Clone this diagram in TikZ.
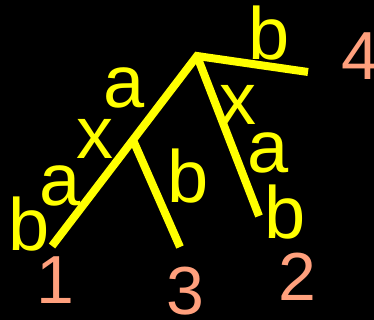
\documentclass[tikz,border=0pt]{standalone}
\usepackage{fontspec}
\setmainfont{Liberation Sans}
\definecolor{edgeyellow}{RGB}{255,255,0}
\definecolor{leafsalmon}{RGB}{255,160,125}
\begin{document}
\begin{tikzpicture}[x=1pt,y=-1pt,
  edge/.style={draw=edgeyellow,line width=8pt,line join=miter},
  lbl/.style={text=edgeyellow,inner sep=0pt,font=\fontsize{74}{80}\selectfont},
  leafnum/.style={text=leafsalmon,inner sep=0pt,font=\fontsize{68}{74}\selectfont}]
\fill[black] (0,0) rectangle (374,320);
\useasboundingbox (0,0) rectangle (374,320);
% tree points
\coordinate (root) at (197,56);
\coordinate (mid) at (133,140);
\coordinate (l1) at (52,246);
\coordinate (l3) at (180,247);
\coordinate (l4) at (308,72);
\coordinate (l2) at (259,216);
\draw[edge] (l1) -- (root) -- (l4);
\draw[edge] (mid) -- (l3);
\draw[edge] (root) -- (l2);
% edge labels
\node[lbl] (a1) at (124,88) {a};
\node[lbl] (x1) at (95,139) {x};
\node[lbl] (a2) at (60,186) {a};
\node[lbl] (b1) at (29,224) {b};
\node[lbl] (b2) at (188,176) {b};
\node[lbl] (b3) at (269,33) {b};
\node[lbl] (x2) at (238,105) {x};
\node[lbl] (a3) at (268,153) {a};
\node[lbl] (b4) at (285,212) {b};
% leaf numbers
\node[leafnum] (n1) at (55,280) {1};
\node[leafnum] (n3) at (185,291) {3};
\node[leafnum] (n2) at (297,277) {2};
\node[leafnum] (n4) at (360,56) {4};
\end{tikzpicture}
\end{document}
